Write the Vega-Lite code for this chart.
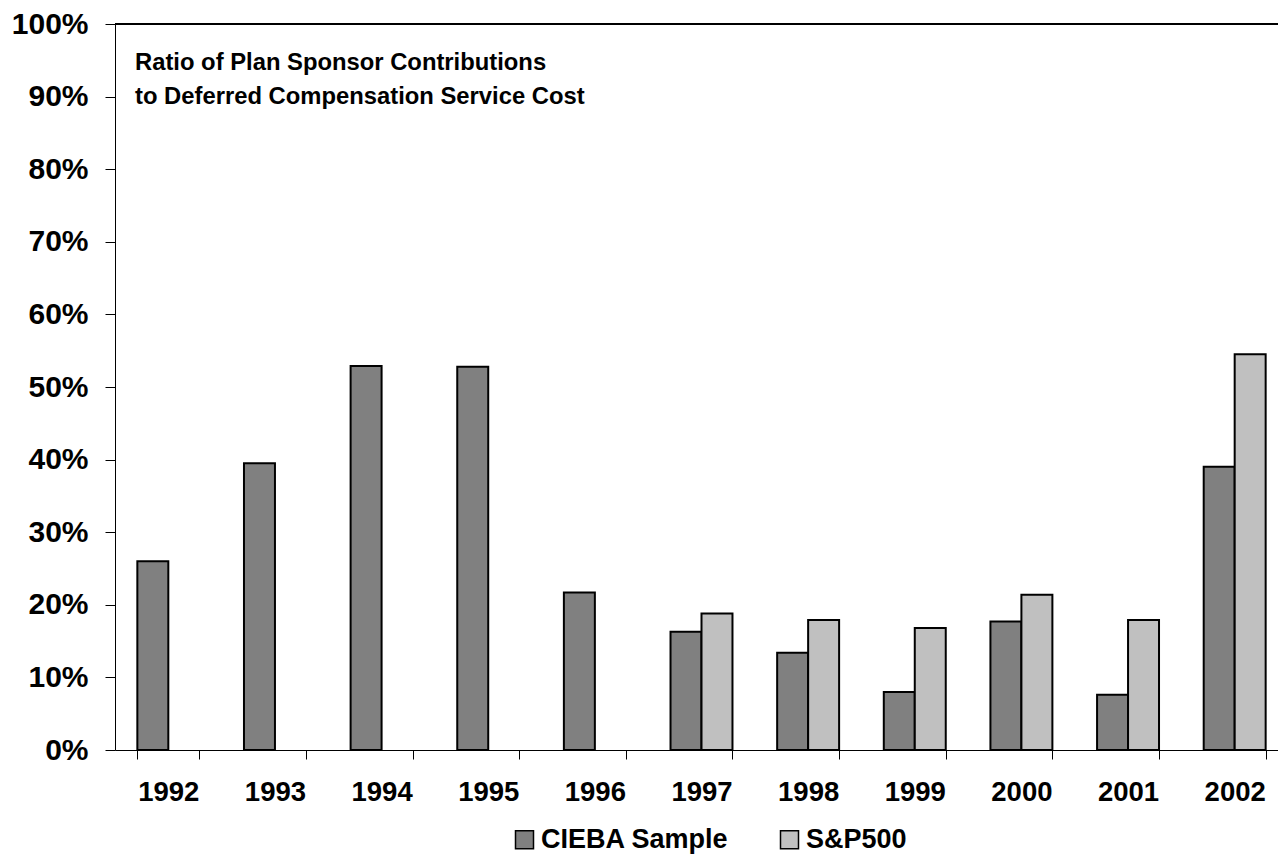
{
  "$schema": "https://vega.github.io/schema/vega-lite/v6.json",
  "autosize": {"type": "none"},
  "width": 1163,
  "height": 726,
  "padding": {"left": 115, "top": 24, "right": 0, "bottom": 104},
  "background": "white",
  "config": {
    "view": {"stroke": null},
    "font": "Liberation Sans",
    "axis": {
      "labelFont": "Liberation Sans",
      "labelFontWeight": "bold",
      "labelColor": "black",
      "domainColor": "black",
      "tickColor": "black",
      "domainWidth": 1,
      "tickWidth": 1,
      "grid": false,
      "title": null
    }
  },
  "title": {
    "text": ["Ratio of Plan Sponsor Contributions", "to Deferred Compensation Service Cost"],
    "orient": "top",
    "anchor": "start",
    "frame": "group",
    "offset": 0,
    "dx": 20,
    "dy": 118.5,
    "baseline": "alphabetic",
    "lineHeight": 34,
    "font": "Liberation Sans",
    "fontSize": 23.8,
    "fontWeight": "bold",
    "color": "black"
  },
  "data": {
    "values": [
      {"year": "1992", "series": "CIEBA Sample", "ratio": 0.260},
      {"year": "1993", "series": "CIEBA Sample", "ratio": 0.395},
      {"year": "1994", "series": "CIEBA Sample", "ratio": 0.529},
      {"year": "1995", "series": "CIEBA Sample", "ratio": 0.528},
      {"year": "1996", "series": "CIEBA Sample", "ratio": 0.217},
      {"year": "1997", "series": "CIEBA Sample", "ratio": 0.163},
      {"year": "1997", "series": "S&P500", "ratio": 0.188},
      {"year": "1998", "series": "CIEBA Sample", "ratio": 0.134},
      {"year": "1998", "series": "S&P500", "ratio": 0.179},
      {"year": "1999", "series": "CIEBA Sample", "ratio": 0.080},
      {"year": "1999", "series": "S&P500", "ratio": 0.168},
      {"year": "2000", "series": "CIEBA Sample", "ratio": 0.177},
      {"year": "2000", "series": "S&P500", "ratio": 0.214},
      {"year": "2001", "series": "CIEBA Sample", "ratio": 0.076},
      {"year": "2001", "series": "S&P500", "ratio": 0.179},
      {"year": "2002", "series": "CIEBA Sample", "ratio": 0.390},
      {"year": "2002", "series": "S&P500", "ratio": 0.545}
    ]
  },
  "layer": [
    {
      "mark": {"type": "bar", "stroke": "black", "strokeWidth": 2},
      "encoding": {
        "x": {
          "field": "year",
          "type": "nominal",
          "sort": null,
          "scale": {"range": [0, 1173], "paddingInner": 0.419, "paddingOuter": 0.2095},
          "axis": {
            "labelAngle": 0,
            "labelFontSize": 27.5,
            "tickSize": 9,
            "tickBand": "extent",
            "labelPadding": 19
          }
        },
        "xOffset": {
          "field": "series",
          "type": "nominal",
          "scale": {"domain": ["CIEBA Sample", "S&P500"]}
        },
        "y": {
          "field": "ratio",
          "type": "quantitative",
          "scale": {"domain": [0, 1], "nice": false},
          "axis": {
            "values": [0, 0.1, 0.2, 0.3, 0.4, 0.5, 0.6, 0.7, 0.8, 0.9, 1],
            "format": ".0%",
            "labelFontSize": 30,
            "tickSize": 10,
            "labelPadding": 17
          }
        },
        "color": {
          "field": "series",
          "type": "nominal",
          "scale": {"domain": ["CIEBA Sample", "S&P500"], "range": ["#808080", "#C0C0C0"]},
          "legend": {
            "title": null,
            "orient": "none",
            "direction": "horizontal",
            "legendX": 396,
            "legendY": 802,
            "padding": 0,
            "symbolType": "square",
            "symbolSize": 324,
            "symbolStrokeColor": "black",
            "symbolStrokeWidth": 1.5,
            "labelFont": "Liberation Sans",
            "labelFontSize": 27,
            "labelFontWeight": "bold",
            "labelColor": "black",
            "labelOffset": 3,
            "labelLimit": 400,
            "columnPadding": 47
          }
        }
      }
    },
    {
      "mark": {"type": "rule", "color": "black", "strokeWidth": 1},
      "encoding": {"y": {"datum": 1}}
    }
  ]
}
